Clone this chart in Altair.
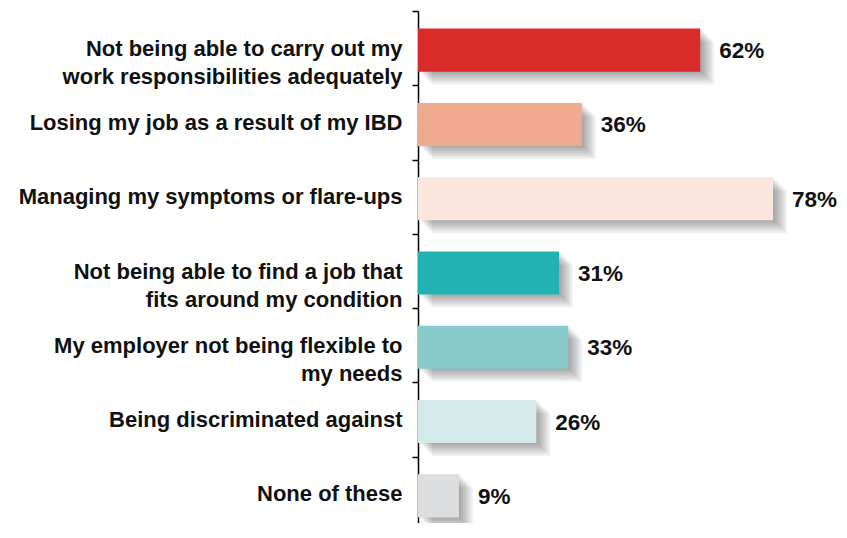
import altair as alt
import pandas as pd

categories = [
    "Not being able to carry out my|work responsibilities adequately",
    "Losing my job as a result of my IBD",
    "Managing my symptoms or flare-ups",
    "Not being able to find a job that|fits around my condition",
    "My employer not being flexible to|my needs",
    "Being discriminated against",
    "None of these",
]
values = [62, 36, 78, 31, 33, 26, 9]
colors = ["#D92B27", "#EFAA8F", "#FAE6DC", "#23B2B3", "#89CBCA", "#D4EAEA", "#DCDDDF"]
labels = [f"{v}%" for v in values]

df = pd.DataFrame({"cat": categories, "value": values, "color": colors, "label": labels})

FONT = "Liberation Sans"

y_enc = alt.Y(
    "cat:N",
    sort=categories,
    scale=alt.Scale(paddingInner=0, paddingOuter=0, range=[0, 520]),
    axis=alt.Axis(
        title=None,
        labelExpr="split(datum.label, '|')",
        labelFont=FONT,
        labelFontSize=22,
        labelFontWeight="bold",
        labelColor="#111111",
        labelLineHeight=28,
        labelLimit=0,
        labelPadding=10,
        labelAlign="right",
        labelBaseline="middle",
        domainColor="#000000",
        domainWidth=1.5,
        tickColor="#000000",
        tickWidth=1.5,
        tickSize=6,
        tickBand="extent",
        grid=False,
    ),
)
x_enc = alt.X("value:Q", scale=alt.Scale(domain=[0, 78], nice=False, zero=True), axis=None)

base = alt.Chart(df)
BAR_H = {"band": 0.58}

layers = []
for d in [2, 4, 6, 8, 10, 12, 14]:
    layers.append(
        base.mark_bar(
            color="#000000", opacity=0.055, height=BAR_H,
            xOffset=d, x2Offset=d, yOffset=d + 1, y2Offset=d + 1,
        ).encode(x=x_enc, y=y_enc)
    )

bars = base.mark_bar(height=BAR_H, yOffset=2, y2Offset=2).encode(
    x=x_enc, y=y_enc, color=alt.Color("color:N", scale=None)
)
text = base.mark_text(
    align="left", baseline="middle", dx=19, dy=3,
    font=FONT, fontSize=22.5, fontWeight="bold", color="#111111",
).encode(x=x_enc, y=y_enc, text="label:N")

chart = alt.layer(*layers, bars, text).properties(
    width=355,
    height=511,
    autosize=alt.AutoSizeParams(type="none"),
    padding={"left": 410, "top": 3, "right": 66, "bottom": 1},
    background="white",
).configure_view(stroke=None)

chart.save("out.html", embed_options={"renderer": "svg", "actions": False})
